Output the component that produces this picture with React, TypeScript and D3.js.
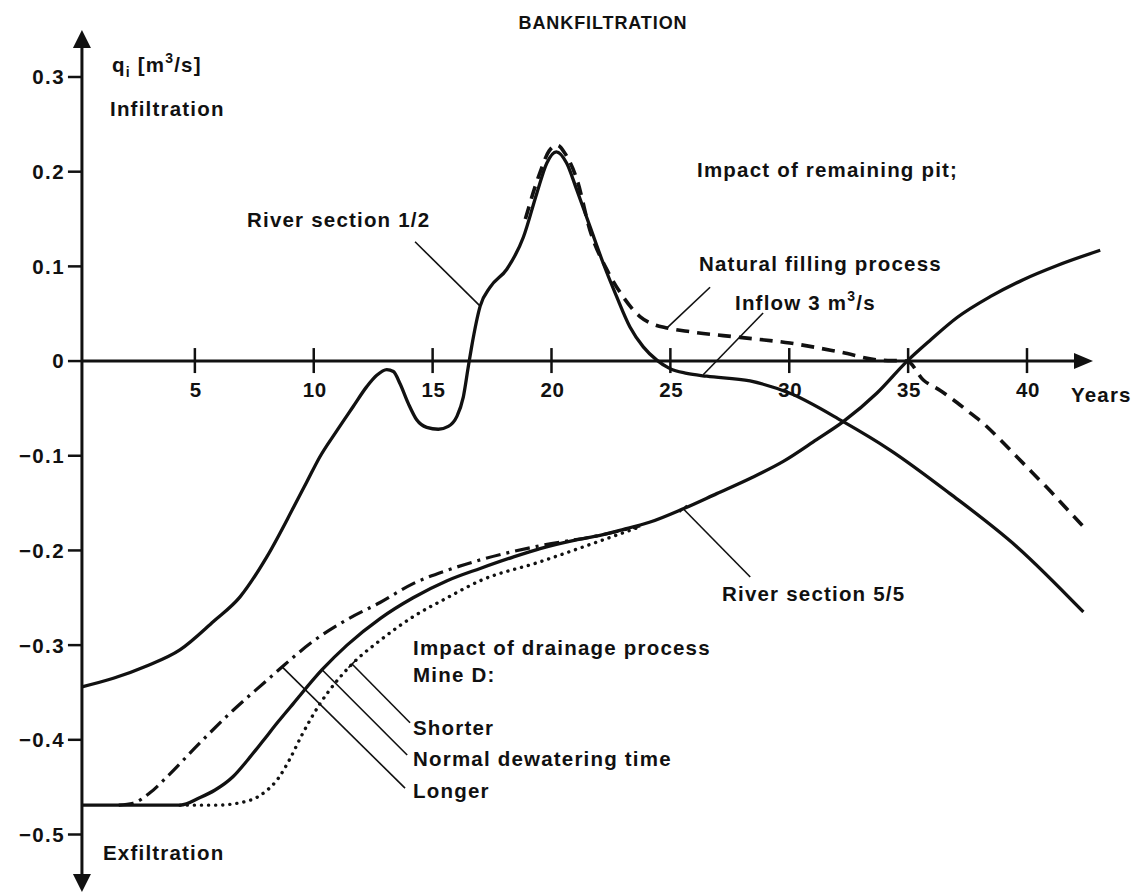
import React from "react";
import * as d3 from "d3";

type Pt = [number, number];

// Time axis ticks (years) and discharge axis ticks (m³/s)
const yearTicks = [5, 10, 15, 20, 25, 30, 35, 40];
const flowTicks = [0.3, 0.2, 0.1, 0, -0.1, -0.2, -0.3, -0.4, -0.5];

// River section 1/2 — bank filtration over time
const riverSection12: Pt[] = [
  [0.25, -0.344], [1.57, -0.335], [2.97, -0.322], [4.37, -0.305], [5.78, -0.275],
  [6.9, -0.249], [8.02, -0.207], [9.14, -0.155], [9.7, -0.128], [10.26, -0.101],
  [10.96, -0.074], [11.66, -0.048], [12.23, -0.027], [12.65, -0.015], [13.07, -0.009],
  [13.35, -0.011], [13.63, -0.024], [13.98, -0.045], [14.33, -0.062], [14.75, -0.07],
  [15.24, -0.072], [15.66, -0.069], [16.01, -0.059], [16.29, -0.038], [16.5, -0.006],
  [16.64, 0.015], [17.0, 0.058], [17.42, 0.078], [18.12, 0.097], [18.82, 0.131],
  [19.38, 0.177], [19.8, 0.209], [20.2, 0.221], [20.64, 0.209], [21.06, 0.181],
  [21.62, 0.142], [22.18, 0.103], [22.74, 0.068], [23.3, 0.036], [23.86, 0.015],
  [24.43, 0.001], [24.98, -0.008], [25.69, -0.013], [26.53, -0.016], [28.35, -0.021],
  [30.03, -0.034], [32.27, -0.064], [34.24, -0.094], [36.76, -0.14], [39.57, -0.196],
  [42.37, -0.265],
];

// Remaining pit, natural filling process (inflow 3 m³/s)
const naturalFilling: Pt[] = [
  [18.9, 0.15], [19.5, 0.198], [19.9, 0.222], [20.24, 0.228], [20.6, 0.218],
  [21.08, 0.191], [21.62, 0.138], [22.34, 0.096], [23.01, 0.068], [23.72, 0.047],
  [24.27, 0.039], [24.86, 0.035], [25.83, 0.031], [27.93, 0.025], [30.03, 0.019],
  [32.13, 0.0095], [33.82, 0.001], [34.95, 0], [35.64, -0.02], [36.35, -0.031],
  [37.47, -0.052], [38.17, -0.066], [38.87, -0.083], [39.57, -0.101], [40.27, -0.119],
  [40.97, -0.137], [41.67, -0.156], [42.45, -0.177],
];

// River section 5/5 — normal dewatering time of Mine D
const riverSection55: Pt[] = [
  [0.25, -0.469], [2.5, -0.469], [4.38, -0.469], [5.22, -0.461], [5.85, -0.453],
  [6.6, -0.439], [7.23, -0.421], [7.87, -0.401], [8.5, -0.381], [9.13, -0.362],
  [10.35, -0.326], [11.4, -0.3], [12.79, -0.272], [14.18, -0.25], [15.61, -0.232],
  [17.0, -0.219], [18.38, -0.207], [19.52, -0.198], [21.0, -0.189], [22.04, -0.184],
  [23.0, -0.178], [24.15, -0.17], [25.54, -0.156], [26.95, -0.14], [28.35, -0.124],
  [29.75, -0.106], [31.15, -0.083], [32.27, -0.064], [33.68, -0.034], [34.96, 0],
  [35.93, 0.022], [37.06, 0.046], [38.45, 0.068], [39.84, 0.086], [41.27, 0.101],
  [43.08, 0.117],
];

// Longer dewatering time
const longerDewatering: Pt[] = [
  [1.8, -0.469], [2.4, -0.467], [3.11, -0.456], [3.83, -0.439], [5.22, -0.403],
  [6.6, -0.369], [8.04, -0.337], [8.58, -0.325], [9.97, -0.296], [11.4, -0.273],
  [12.79, -0.255], [14.18, -0.235], [15.61, -0.221], [17.0, -0.21], [19.52, -0.195],
  [22.04, -0.184], [23.73, -0.174],
];

// Shorter dewatering time
const shorterDewatering: Pt[] = [
  [4.38, -0.469], [5.93, -0.469], [7.3, -0.464], [8.0, -0.454], [8.5, -0.441],
  [9.0, -0.42], [9.5, -0.395], [10.26, -0.362], [11.0, -0.337], [11.61, -0.32],
  [12.79, -0.295], [14.18, -0.27], [15.61, -0.25], [17.0, -0.232], [19.52, -0.212],
  [22.04, -0.19], [23.73, -0.175],
];

// Leader lines: [point on curve, point near label], in (year, m³/s)
type Leader = { from: Pt; to: Pt; cap: boolean };
const leaders: Leader[] = [
  { from: [17.0, 0.058], to: [14.26, 0.126], cap: false },
  { from: [24.86, 0.035], to: [26.67, 0.078], cap: false },
  { from: [26.38, -0.0145], to: [28.9, 0.0507], cap: false },
  { from: [25.54, -0.156], to: [28.36, -0.228], cap: true },
  { from: [8.67, -0.323], to: [13.84, -0.451], cap: true },
  { from: [10.35, -0.326], to: [13.93, -0.416], cap: true },
  { from: [11.61, -0.32], to: [14.05, -0.382], cap: true },
];

const AXIS_YEAR = 0.25;
const FONT = "'Liberation Sans', Arial, Helvetica, sans-serif";
const INK = "#111";

const fmtFlow = (v: number) =>
  v === 0 ? "0" : (v < 0 ? "\u2212" : "") + Math.abs(v).toFixed(1);

export default function App() {
  const W = 1136;
  const H = 893;
  const x = d3.scaleLinear().domain([0, 40]).range([76, 1027]);
  const y = d3.scaleLinear().domain([-0.5, 0.3]).range([834.5, 77]);
  const line = d3
    .line<Pt>()
    .x((d) => x(d[0]))
    .y((d) => y(d[1]))
    .curve(d3.curveMonotoneX);

  const ax = x(AXIS_YEAR);
  const ay = y(0);
  const yTop = 47;
  const yBot = 875;
  const xEnd = 1075;

  const text = {
    fontFamily: FONT,
    fontWeight: 700 as const,
    fontSize: 20.5,
    letterSpacing: 1.2,
    fill: INK,
  };
  const sup = 14;

  return (
    <svg
      width={W}
      height={H}
      viewBox={`0 0 ${W} ${H}`}
      style={{ position: "absolute", left: 0, top: 0, background: "#fff" }}
    >
      <rect width={W} height={H} fill="#fff" />

      {/* title */}
      <text x={603} y={29} textAnchor="middle" {...text} fontSize={18} letterSpacing={0.9}>
        BANKFILTRATION
      </text>

      {/* axes */}
      <g stroke={INK} strokeWidth={3} fill="none">
        <line x1={ax} y1={yTop} x2={ax} y2={yBot} />
        <line x1={ax} y1={ay} x2={xEnd} y2={ay} />
      </g>
      <g fill={INK}>
        <polygon points={`${ax},30 ${ax - 9},${yTop + 1} ${ax + 9},${yTop + 1}`} />
        <polygon points={`${ax},892 ${ax - 9},${yBot - 1} ${ax + 9},${yBot - 1}`} />
        <polygon points={`1093,${ay} ${xEnd - 1},${ay - 8} ${xEnd - 1},${ay + 8}`} />
      </g>

      {/* y ticks */}
      {flowTicks.map((v) => (
        <g key={`yt${v}`}>
          <line x1={ax - 14} x2={ax} y1={y(v)} y2={y(v)} stroke={INK} strokeWidth={2.5} />
          <text x={65} y={y(v)} dy="0.36em" textAnchor="end" {...text} letterSpacing={1.4}>
            {fmtFlow(v)}
          </text>
        </g>
      ))}

      {/* x ticks */}
      {yearTicks.map((t) => (
        <g key={`xt${t}`}>
          <line x1={x(t)} x2={x(t)} y1={ay - 13} y2={ay + 12} stroke={INK} strokeWidth={2.5} />
          <text x={x(t) + 1} y={397} textAnchor="middle" {...text} letterSpacing={0.6}>
            {t}
          </text>
        </g>
      ))}
      <text x={1071} y={402} {...text}>Years</text>

      {/* axis titles */}
      <text x={112} y={72} {...text}>
        q<tspan fontSize={sup} dy={5}>i</tspan>
        <tspan dy={-5}> [m</tspan>
        <tspan fontSize={sup} dy={-9}>3</tspan>
        <tspan dy={9}>/s]</tspan>
      </text>
      <text x={110} y={116} {...text}>Infiltration</text>
      <text x={103} y={860} {...text}>Exfiltration</text>

      {/* curves */}
      <g fill="none" stroke={INK} strokeLinejoin="round">
        <path d={line(riverSection12) ?? ""} strokeWidth={3.3} />
        <path d={line(riverSection55) ?? ""} strokeWidth={3.3} />
        <path d={line(naturalFilling) ?? ""} strokeWidth={3.6} strokeDasharray="13 8" />
        <path d={line(longerDewatering) ?? ""} strokeWidth={3.2} strokeDasharray="15 6 3 6" />
        <path
          d={line(shorterDewatering) ?? ""}
          strokeWidth={3.4}
          strokeDasharray="0.1 7"
          strokeLinecap="round"
        />
      </g>

      {/* leader lines */}
      <g stroke={INK} strokeWidth={1.6} fill="none">
        {leaders.map((l, i) => {
          const x1 = x(l.from[0]);
          const y1 = y(l.from[1]);
          const x2 = x(l.to[0]);
          const y2 = y(l.to[1]);
          const len = Math.hypot(x2 - x1, y2 - y1);
          const nx = -(y2 - y1) / len;
          const ny = (x2 - x1) / len;
          const c = 5;
          return (
            <g key={`ld${i}`}>
              <line x1={x1} y1={y1} x2={x2} y2={y2} />
              {l.cap && (
                <line x1={x1 - nx * c} y1={y1 - ny * c} x2={x1 + nx * c} y2={y1 + ny * c} />
              )}
            </g>
          );
        })}
      </g>

      {/* annotations */}
      <text x={247} y={227} {...text}>River section 1/2</text>
      <text x={697} y={177} {...text}>Impact of remaining pit;</text>
      <text x={699} y={271} {...text}>Natural filling process</text>
      <text x={735} y={310} {...text}>
        Inflow 3 m<tspan fontSize={sup} dy={-9}>3</tspan>
        <tspan dy={9}>/s</tspan>
      </text>
      <text x={722} y={601} {...text}>River section 5/5</text>
      <text x={413} y={655} {...text}>Impact of drainage process</text>
      <text x={413} y={682} {...text}>Mine D:</text>
      <text x={413} y={735} {...text}>Shorter</text>
      <text x={413} y={766} {...text}>Normal dewatering time</text>
      <text x={413} y={798} {...text}>Longer</text>
    </svg>
  );
}
